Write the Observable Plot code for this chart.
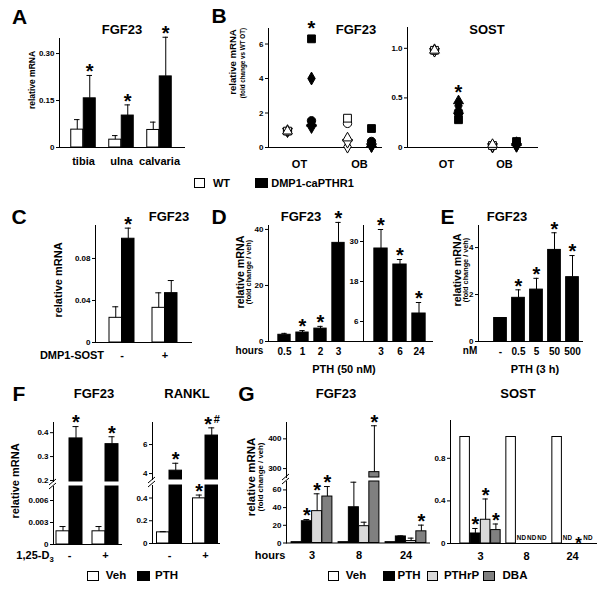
<!DOCTYPE html>
<html><head><meta charset="utf-8">
<script src="https://cdn.jsdelivr.net/npm/d3@7"></script>
<script src="https://cdn.jsdelivr.net/npm/@observablehq/plot@0.6"></script>
<style>
body{margin:0;background:#fff;}
#root{position:relative;width:600px;height:592px;overflow:hidden;background:#fff;font-family:"Liberation Sans",Arial,Helvetica,sans-serif;font-weight:bold;color:#000;}
.t{position:absolute;white-space:nowrap;line-height:1;transform:translate(-50%,-50%);}
.r{transform:translate(-50%,-50%) rotate(-90deg);}
.sw{position:absolute;border:1px solid #000;box-sizing:border-box;}
sub{font-size:70%;vertical-align:-3px;line-height:0;}
</style></head><body><div id="root"></div>
<script>
// ---------- DATA ----------
// Panel A
const aGroups = ["tibia", "ulna", "calvaria"];
const aWT = [0.057, 0.025, 0.056];
const aWTerr = [0.089, 0.038, 0.081];
const aTG = [0.157, 0.102, 0.227];
const aTGerr = [0.230, 0.136, 0.352];
const aTGstar = ["*", "*", "*"];
const aYTicks = [0, 0.15, 0.30];
const aYLabels = ["0", "0.15", "0.30"];

// Panel B (one value per animal; index = symbol)
const bSites = ["OT", "OB"];
const bSymbols = ["square", "diamond", "circle", "triangle", "triangleDown"];
const bFgfWT_OT = [0.95, 0.95, 0.95, 0.95, 0.95];
const bFgfTG_OT = [6.3, 4.0, 1.55, 1.4, 1.15];
const bFgfWT_OB = [1.7, 0.05, 1.4, 0.55, 0.3];
const bFgfTG_OB = [1.1, 0.1, 0.35, 0.2, 0.05];
const bSostWT_OT = [0.98, 0.98, 0.98, 0.98, 0.97];
const bSostTG_OT = [0.28, 0.42, 0.36, 0.47, 0.32];
const bSostWT_OB = [0.02, 0.01, 0.02, 0.03, 0.01];
const bSostTG_OB = [0.06, 0.02, 0.04, 0.05, 0.01];
const bFgfTicks = [0, 2, 4, 6];
const bFgfLabels = ["0", "2", "4", "6"];
const bSostTicks = [0, 0.5, 1.0];
const bSostLabels = ["0", "0.5", "1.0"];

// Panel C
const cGroups = ["-", "+"];
const cWT = [0.0235, 0.033];
const cWTerr = [0.034, 0.0473];
const cTG = [0.0988, 0.047];
const cTGerr = [0.1089, 0.059];
const cTGstar = ["*", ""];
const cYTicks = [0, 0.04, 0.08];
const cYLabels = ["0", "0.04", "0.08"];

// Panel D
const dHoursA = ["0.5", "1", "2", "3"];
const dValsA = [2.4, 3.2, 4.6, 35.2];
const dErrA = [2.9, 3.9, 5.4, 42.5];
const dStarA = ["", "*", "*", "*"];
const dHoursB = ["3", "6", "24"];
const dValsB = [27.9, 23.1, 8.4];
const dErrB = [33.6, 24.6, 11.7];
const dStarB = ["*", "*", "*"];
const dTicksA = [0, 20, 40];
const dTicksB = [6, 18, 30];

// Panel E
const eDoses = ["-", "0.5", "5", "50", "500"];
const eVals = [1.0, 1.86, 2.21, 3.9, 2.74];
const eErr = [null, 2.2, 2.69, 4.63, 3.66];
const eStar = ["", "*", "*", "*", "*"];
const eTicks = [0, 2, 4];

// Panel F
const fGroups = ["-", "+"];
const fFgfVeh = [0.0018, 0.0018];
const fFgfVehErr = [0.00245, 0.00245];
const fFgfPTH = [0.376, 0.352];
const fFgfPTHErr = [0.4255, 0.383];
const fFgfPTHStar = ["*", "*"];
const fRanklVeh = [0.098, 0.397];
const fRanklVehErr = [0.104, 0.426];
const fRanklVehStar = ["", "*"];
const fRanklPTH = [4.2, 6.62];
const fRanklPTHErr = [4.71, 7.15];
const fRanklPTHStar = ["*", "*#"];

// Panel G
const gHours = ["3", "8", "24"];
const gFgfVeh = [1, 1, 1];
const gFgfPTH = [24.6, 40.4, 7.4];
const gFgfPTHErr = [26.5, 68.7, 8.0];
const gFgfPTHStar = ["*", "", ""];
const gFgfPTHrP = [36, 19, 2.2];
const gFgfPTHrPErr = [55.6, 23.5, 5.5];
const gFgfPTHrPStar = ["*", "", ""];
const gFgfDBA = [52.5, 288, 13.2];
const gFgfDBAErr = [63.8, 444, 20.2];
const gFgfDBAStar = ["*", "*", "*"];
const gSostVeh = [1, 1, 1];
const gSostPTH = [0.094, null, null];
const gSostPTHErr = [0.141, null, null];
const gSostPTHrP = [0.223, null, null];
const gSostPTHrPErr = [0.418, null, null];
const gSostDBA = [0.126, null, null];
const gSostDBAErr = [0.183, null, null];
const gSostStar = ["*", "", ""];
const gSostNotePTH = ["", "ND", "ND"];
const gSostNotePTHrP = ["", "ND", "*"];
const gSostNoteDBA = ["", "ND", "ND"];

const cLight = "#d9d9d9", cDark = "#808080";

// ---------- HELPERS ----------
const root = document.getElementById("root");
const FONT = '"Liberation Sans", Arial, Helvetica, sans-serif';
const STY = {background: "transparent", overflow: "visible", fontFamily: FONT, fontWeight: "bold", fontSize: "8px", color: "black"};

function label(html, x, y, size, rot) {
  const d = document.createElement("div");
  d.className = "t" + (rot ? " r" : "");
  d.innerHTML = html;
  d.style.left = x + "px"; d.style.top = y + "px"; d.style.fontSize = size + "px";
  root.appendChild(d);
}
function swatch(x, y, w, h, fill) {
  const d = document.createElement("div");
  d.className = "sw";
  Object.assign(d.style, {left: x + "px", top: y + "px", width: w + "px", height: h + "px", background: fill});
  root.appendChild(d);
}
function breakMark(x, y) {
  const ns = "http://www.w3.org/2000/svg";
  const s = document.createElementNS(ns, "svg");
  s.setAttribute("width", 14); s.setAttribute("height", 14);
  Object.assign(s.style, {position: "absolute", left: (x - 7) + "px", top: (y - 7) + "px", overflow: "visible"});
  for (const o of [-2, 2]) {
    const l = document.createElementNS(ns, "line");
    l.setAttribute("x1", 3); l.setAttribute("y1", 10 + o);
    l.setAttribute("x2", 10); l.setAttribute("y2", 4 + o);
    l.setAttribute("stroke", "black"); l.setAttribute("stroke-width", 1);
    s.appendChild(l);
  }
  root.appendChild(s);
}

function chart(c) {
  const ml = 40, mt = 40, mr = 12, mb = 30;
  const W = c.x1 - c.x0 + ml + mr, H = c.y1 - c.y0 + mt + mb;
  const n = c.xDomain.length;
  const xs = c.xType === "point"
    ? {type: "point", domain: c.xDomain, range: [ml + c.c0, ml + c.c0 + c.step * (n - 1)], padding: 0}
    : {type: "band", domain: c.xDomain, range: [ml + c.c0 - c.step / 2, ml + c.c0 - c.step / 2 + c.step * n], padding: 0};
  if (!c.xFont) xs.axis = null;
  const labels = c.yLabels || c.yTicks.map(String);
  const fmt = new Map(c.yTicks.map((t, i) => [t, labels[i]]));
  const marks = [
    Plot.frame({anchor: "left", stroke: "black"}),
    c.baseline !== false ? Plot.ruleY([c.yDomain[0]], {stroke: "black"}) : null,
    Plot.axisY({ticks: c.yTicks, tickFormat: d => fmt.get(d), tickSize: 3, tickPadding: 2, fontSize: 8, label: null}),
    c.xFont ? Plot.axisX({tickSize: 0, tickPadding: c.xPad, fontSize: c.xFont, label: null}) : null,
    ...c.marks
  ];
  const svg = Plot.plot({
    width: W, height: H, marginLeft: ml, marginTop: mt, marginRight: mr, marginBottom: mb,
    x: xs, y: {domain: c.yDomain}, style: STY, marks
  });
  svg.style.position = "absolute";
  svg.style.left = (c.x0 - ml) + "px";
  svg.style.top = (c.y0 - mt) + "px";
  root.appendChild(svg);
}

function bars(groups, series, o) {
  const {step, barW, yMin, yMax, open = true, starSize = 20, starGap = 8.8} = o;
  const m = series.length, out = [];
  const sDy = -(starGap - 0.26 * starSize);
  series.forEach((s, k) => {
    const iL = step / 2 - m * barW / 2 + k * barW;
    const iR = step - iL - barW;
    const dx = iL + barW / 2 - step / 2;
    const rows = groups.map((g, i) => ({
      g, v: s.vals[i], e: s.errs ? s.errs[i] : null,
      st: s.stars ? s.stars[i] : "", note: s.notes ? s.notes[i] : ""
    }));
    const vis = rows.filter(d => d.v != null && d.v > yMin);
    out.push(Plot.barY(vis, {x: "g", y1: yMin, y2: d => Math.min(d.v, yMax), fill: s.fill, stroke: "black", strokeWidth: 1, insetLeft: iL, insetRight: iR}));
    const er = rows.filter(d => d.e != null && d.v != null && d.v < yMax && d.e > yMin);
    out.push(Plot.ruleX(er, {x: "g", y1: d => Math.max(d.v, yMin), y2: d => open ? d.e : Math.min(d.e, yMax), dx, stroke: "black", strokeWidth: 1}));
    const caps = er.filter(d => open || d.e <= yMax);
    out.push(Plot.tickY(caps, {x: "g", y: "e", insetLeft: iL + barW / 2 - 3, insetRight: iR + barW / 2 - 3, stroke: "black", strokeWidth: 1}));
    const top = d => d.e ?? d.v;
    const stars = rows.filter(d => d.st && top(d) != null && top(d) >= yMin && (open || top(d) <= yMax));
    const plain = stars.filter(d => !d.st.includes("#"));
    const hash = stars.filter(d => d.st.includes("#"));
    out.push(Plot.text(plain, {x: "g", y: top, text: "st", dx, dy: sDy, fontSize: starSize, lineAnchor: "middle"}));
    out.push(Plot.text(hash, {x: "g", y: top, text: () => "*", dx: dx - 3.5, dy: sDy, fontSize: starSize, lineAnchor: "middle"}));
    out.push(Plot.text(hash, {x: "g", y: top, text: () => "#", dx: dx + 5, dy: sDy - 5, fontSize: 11, lineAnchor: "middle"}));
    const nd = rows.filter(d => d.note === "ND");
    const ns = rows.filter(d => d.note === "*");
    out.push(Plot.text(nd, {x: "g", y: yMin, text: "note", dx, dy: -6, fontSize: 6.3, lineAnchor: "middle"}));
    out.push(Plot.text(ns, {x: "g", y: yMin, text: "note", dx: dx + 1, dy: 0.5, fontSize: 17, lineAnchor: "middle"}));
  });
  return out;
}

const triDown = {draw(ctx, size) {
  const y = -Math.sqrt(size / (Math.sqrt(3) * 3));
  ctx.moveTo(0, -y * 2);
  ctx.lineTo(-Math.sqrt(3) * y, y);
  ctx.lineTo(Math.sqrt(3) * y, y);
  ctx.closePath();
}};
const symObj = {square: "square", diamond: "diamond", circle: "circle", triangle: "triangle", triangleDown: triDown};
const symR = {square: 4.4, diamond: 3.9, circle: 4.2, triangle: 3.7, triangleDown: 3.7};
const drawOrder = ["diamond", "triangleDown", "circle", "square", "triangle"];

function bRows(arrs) {
  const rows = [];
  arrs.forEach(([arr, grp, ser]) => arr.forEach((v, i) => rows.push({grp, ser, v, sym: bSymbols[i]})));
  return rows;
}
function dotMarks(rows) {
  const out = [];
  for (const ser of ["WT", "TG"]) for (const s of drawOrder) {
    out.push(Plot.dot(rows.filter(d => d.sym === s && d.ser === ser), {
      x: "grp", y: "v", symbol: symObj[s], r: symR[s],
      fill: ser === "WT" ? "white" : "black", stroke: "black", strokeWidth: 1,
      dx: ser === "WT" ? -12 : 12
    }));
  }
  return out;
}

// ---------- PANEL A ----------
chart({x0: 59, x1: 185, y0: 38, y1: 147, yDomain: [0, 0.348], yTicks: aYTicks, yLabels: aYLabels,
  xDomain: aGroups, c0: 23, step: 38.5, xFont: 11, xPad: 9.5,
  marks: bars(aGroups, [
    {vals: aWT, errs: aWTerr, fill: "white"},
    {vals: aTG, errs: aTGerr, stars: aTGstar, fill: "black"}
  ], {step: 38.5, barW: 12.5, yMin: 0, yMax: 0.348})});

// ---------- PANEL B ----------
const bFgfRows = bRows([[bFgfWT_OT, "OT", "WT"], [bFgfTG_OT, "OT", "TG"], [bFgfWT_OB, "OB", "WT"], [bFgfTG_OB, "OB", "TG"]]);
chart({x0: 268, x1: 382, y0: 28, y1: 147, yDomain: [0, 6.9], yTicks: bFgfTicks, yLabels: bFgfLabels,
  xType: "point", xDomain: bSites, c0: 31, step: 60, xFont: 11, xPad: 13,
  marks: [...dotMarks(bFgfRows),
    Plot.text([{grp: "OT", v: d3.max(bFgfTG_OT)}], {x: "grp", y: "v", text: () => "*", dx: 12, dy: -10, fontSize: 20, lineAnchor: "middle"})]});
const bSostRows = bRows([[bSostWT_OT, "OT", "WT"], [bSostTG_OT, "OT", "TG"], [bSostWT_OB, "OB", "WT"], [bSostTG_OB, "OB", "TG"]]);
chart({x0: 407, x1: 538, y0: 27, y1: 147, yDomain: [0, 1.21], yTicks: bSostTicks, yLabels: bSostLabels,
  xType: "point", xDomain: bSites, c0: 38.5, step: 58, xFont: 11, xPad: 13,
  marks: [...dotMarks(bSostRows),
    Plot.text([{grp: "OT", v: d3.max(bSostTG_OT)}], {x: "grp", y: "v", text: () => "*", dx: 12, dy: -8.5, fontSize: 20, lineAnchor: "middle"})]});

// ---------- PANEL C ----------
chart({x0: 95, x1: 192, y0: 225, y1: 342, yDomain: [0, 0.1114], yTicks: cYTicks, yLabels: cYLabels,
  xDomain: cGroups, c0: 26, step: 43, xFont: 11, xPad: 9,
  marks: bars(cGroups, [
    {vals: cWT, errs: cWTerr, fill: "white"},
    {vals: cTG, errs: cTGerr, stars: cTGstar, fill: "black"}
  ], {step: 43, barW: 12.5, yMin: 0, yMax: 0.1114})});

// ---------- PANEL D ----------
chart({x0: 268, x1: 363, y0: 225, y1: 341, yDomain: [0, 41.4], yTicks: dTicksA,
  xDomain: dHoursA, c0: 14.5, step: 18.7, xFont: 10, xPad: 6,
  marks: bars(dHoursA, [{vals: dValsA, errs: dErrA, stars: dStarA, fill: "black"}], {step: 18.7, barW: 13, yMin: 0, yMax: 41.4})});
chart({x0: 363, x1: 433, y0: 225, y1: 341, yDomain: [0, 34.8], yTicks: dTicksB,
  xDomain: dHoursB, c0: 17, step: 19.7, xFont: 10, xPad: 6,
  marks: bars(dHoursB, [{vals: dValsB, errs: dErrB, stars: dStarB, fill: "black"}], {step: 19.7, barW: 14, yMin: 0, yMax: 34.8})});

// ---------- PANEL E ----------
chart({x0: 478, x1: 583, y0: 225, y1: 341, yDomain: [0, 4.94], yTicks: eTicks,
  xDomain: eDoses, c0: 20.5, step: 18.8, xFont: 10, xPad: 6,
  marks: bars(eDoses, [{vals: eVals, errs: eErr, stars: eStar, fill: "black"}], {step: 18.8, barW: 13.5, yMin: 0, yMax: 4.94})});

// ---------- PANEL F ----------
const fFgfSeries = [
  {vals: fFgfVeh, errs: fFgfVehErr, fill: "white"},
  {vals: fFgfPTH, errs: fFgfPTHErr, stars: fFgfPTHStar, fill: "black"}
];
chart({x0: 53, x1: 122, y0: 422, y1: 481, yDomain: [0.1957, 0.4426], yTicks: [0.2, 0.3, 0.4], yLabels: ["0.2", "0.3", "0.4"],
  xDomain: fGroups, c0: 16, step: 36, baseline: false,
  marks: bars(fGroups, fFgfSeries, {step: 36, barW: 13, yMin: 0.1957, yMax: 0.4426})});
chart({x0: 53, x1: 122, y0: 486, y1: 544, yDomain: [0, 0.00791], yTicks: [0, 0.003, 0.006], yLabels: ["0", "0.003", "0.006"],
  xDomain: fGroups, c0: 16, step: 36, xFont: 11, xPad: 7,
  marks: bars(fGroups, fFgfSeries, {step: 36, barW: 13, yMin: 0, yMax: 0.00791, open: false})});
const fRanklSeries = [
  {vals: fRanklVeh, errs: fRanklVehErr, stars: fRanklVehStar, fill: "white"},
  {vals: fRanklPTH, errs: fRanklPTHErr, stars: fRanklPTHStar, fill: "black"}
];
chart({x0: 152, x1: 220, y0: 422, y1: 479, yDomain: [3.59, 7.52], yTicks: [4, 6],
  xDomain: fGroups, c0: 17, step: 36, baseline: false,
  marks: bars(fGroups, fRanklSeries, {step: 36, barW: 12.5, yMin: 3.59, yMax: 7.52})});
chart({x0: 152, x1: 220, y0: 485, y1: 543, yDomain: [0, 0.51], yTicks: [0, 0.2, 0.4], yLabels: ["0", "0.2", "0.4"],
  xDomain: fGroups, c0: 17, step: 36, xFont: 11, xPad: 8,
  marks: bars(fGroups, fRanklSeries, {step: 36, barW: 12.5, yMin: 0, yMax: 0.51, open: false})});

// ---------- PANEL G ----------
const gFgfSeries = [
  {vals: gFgfVeh, fill: "white"},
  {vals: gFgfPTH, errs: gFgfPTHErr, stars: gFgfPTHStar, fill: "black"},
  {vals: gFgfPTHrP, errs: gFgfPTHrPErr, stars: gFgfPTHrPStar, fill: cLight},
  {vals: gFgfDBA, errs: gFgfDBAErr, stars: gFgfDBAStar, fill: cDark}
];
chart({x0: 286, x1: 430, y0: 422, y1: 477, yDomain: [270, 455], yTicks: [300, 400],
  xDomain: gHours, c0: 25.3, step: 47.2, baseline: false,
  marks: bars(gHours, gFgfSeries, {step: 47.2, barW: 10.25, yMin: 270, yMax: 455})});
chart({x0: 286, x1: 430, y0: 481, y1: 542.5, yDomain: [0, 69.5], yTicks: [0, 20, 40, 60],
  xDomain: gHours, c0: 25.3, step: 47.2, xFont: 11, xPad: 8.5,
  marks: bars(gHours, gFgfSeries, {step: 47.2, barW: 10.25, yMin: 0, yMax: 69.5, open: false})});
chart({x0: 450, x1: 597, y0: 420, y1: 543, yDomain: [0, 1.155], yTicks: [0, 0.4, 0.8], yLabels: ["0", "0.4", "0.8"],
  xDomain: gHours, c0: 28.8, step: 46.7, xFont: 11, xPad: 9,
  marks: bars(gHours, [
    {vals: gSostVeh, fill: "white"},
    {vals: gSostPTH, errs: gSostPTHErr, stars: gSostStar, notes: gSostNotePTH, fill: "black"},
    {vals: gSostPTHrP, errs: gSostPTHrPErr, stars: gSostStar, notes: gSostNotePTHrP, fill: cLight},
    {vals: gSostDBA, errs: gSostDBAErr, stars: gSostStar, notes: gSostNoteDBA, fill: cDark}
  ], {step: 46.7, barW: 10.25, yMin: 0, yMax: 1.155})});

breakMark(53, 483.5);
breakMark(152, 482);
breakMark(286, 479);

// ---------- TEXT ----------
[["A", 19.5, 15.5], ["B", 219, 15], ["C", 19, 215.5], ["D", 219, 215.5], ["E", 447.5, 215.5], ["F", 19, 393], ["G", 246.5, 393]]
  .forEach(([s, x, y]) => label(s, x, y, 21));
[["FGF23", 122, 29], ["FGF23", 356, 29], ["SOST", 487, 29], ["FGF23", 169, 215.5], ["FGF23", 301, 215.5], ["FGF23", 507, 215.5],
 ["FGF23", 94, 393], ["RANKL", 187, 393], ["FGF23", 336, 393], ["SOST", 518, 393]]
  .forEach(([s, x, y]) => label(s, x, y, 13));
// y titles
label("relative mRNA", 32, 80, 8.5, true);
label("relative mRNA", 233, 62, 9.6, true);
label("(fold change vs WT OT)", 243, 63, 6.3, true);
label("relative mRNA", 58, 280, 11, true);
label("relative mRNA", 240, 272, 10.7, true);
label("(fold change / veh)", 249, 272, 7.3, true);
label("relative mRNA", 457, 270, 10.7, true);
label("(fold change / veh)", 466, 270, 7.3, true);
label("relative mRNA", 15, 481, 11, true);
label("relative mRNA", 252, 477, 11.5, true);
label("(fold change / veh)", 261, 477, 7.8, true);
// x annotations
label("DMP1-SOST", 72, 355, 11);
label("hours", 249.5, 351, 10);
label("PTH (50 nM)", 344, 369, 11);
label("nM", 470, 351, 10);
label("PTH (3 h)", 535, 369, 11);
label("1,25-D<sub>3</sub>", 35, 555, 11);
label("hours", 270, 555, 11);
// legends
swatch(194, 178, 11, 10, "white"); label("WT", 221.5, 183, 11);
swatch(255, 178, 13, 10, "black"); label("DMP1-caPTHR1", 312.5, 183, 11);
swatch(87, 571, 12, 10, "white"); label("Veh", 116, 576, 11.5);
swatch(137, 571, 13, 10, "black"); label("PTH", 166.5, 576, 11.5);
swatch(328, 571, 11, 10, "white"); label("Veh", 356, 576, 11.5);
swatch(383, 571, 12, 10, "black"); label("PTH", 409, 576, 11.5);
swatch(427, 571, 11, 10, cLight); label("PTHrP", 461.5, 576, 11.5);
swatch(483, 571, 12, 10, cDark); label("DBA", 515, 576, 11.5);
</script></body></html>
